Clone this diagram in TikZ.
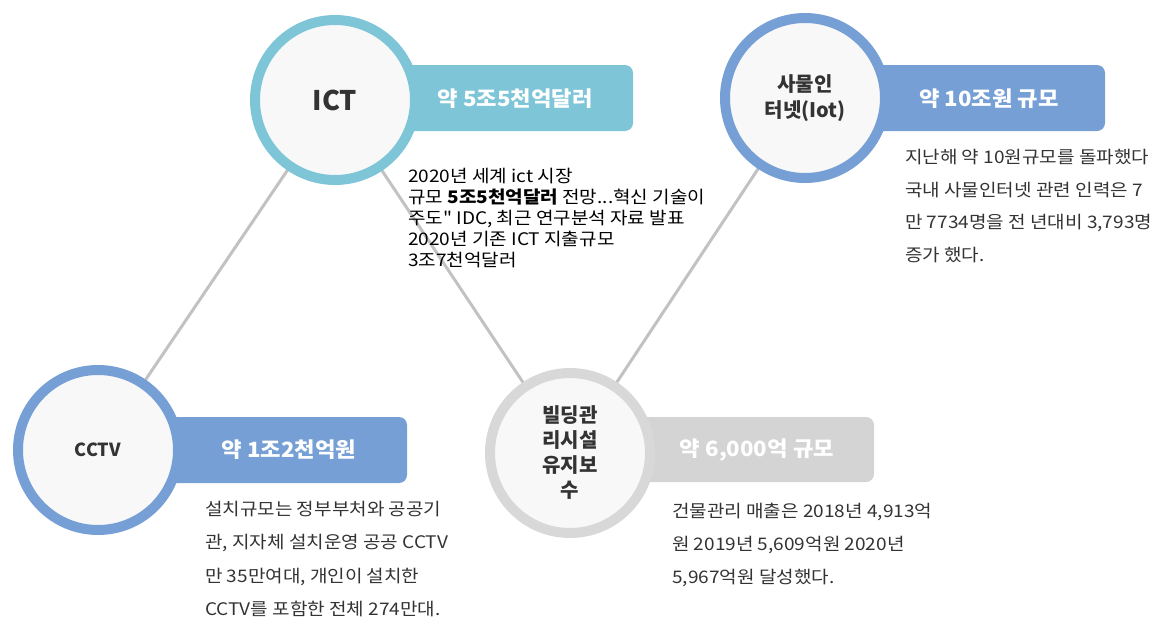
\documentclass[tikz,border=0pt]{standalone}
\usepackage{fontspec}
\setmainfont{Noto Sans CJK KR}
\newfontfamily\descfont{Noto Sans CJK KR}[FakeStretch=1.1]
\newfontfamily\badgefont{Noto Sans CJK KR}[FakeStretch=1.06]
\definecolor{teal1}{HTML}{7EC6D7}
\definecolor{blue1}{HTML}{769FD5}
\definecolor{gray1}{HTML}{D4D4D4}
\definecolor{ringgray}{HTML}{D8D8D8}
\definecolor{linegray}{HTML}{C2C2C2}
\definecolor{circfill}{HTML}{F8F8F8}
\definecolor{txt}{HTML}{333333}
\tikzset{
  hub/.style={circle, minimum size=160pt, line width=10pt, fill=circfill, inner sep=0pt, align=center, text=txt},
  badgetext/.style={text=white, font=\badgefont\fontsize{21}{24}\selectfont\bfseries},
  desc/.style={anchor=north west, align=left, inner sep=0pt, text=txt},
  link/.style={draw=linegray, line width=3pt}
}
\begin{document}
\begin{tikzpicture}[x=1pt,y=-1pt]
\useasboundingbox (0,0) rectangle (1167,632);
% hub positions
\coordinate (pICT) at (335,100);
\coordinate (pIOT) at (805,98);
\coordinate (pCCTV) at (98,450);
\coordinate (pBLD) at (570,453);
% connectors
\draw[link] (pCCTV) -- (pICT);
\draw[link] (pICT) -- (pBLD);
\draw[link] (pIOT) -- (pBLD);
% badges
\fill[teal1, rounded corners=8pt] (340,65) rectangle (633,131);
\node[badgetext] (bICT) at (515,99) {약 5조5천억달러};
\fill[blue1, rounded corners=8pt] (810,65) rectangle (1105,131);
\node[badgetext] (bIOT) at (989,99) {약 10조원 규모};
\fill[blue1, rounded corners=8pt] (100,417) rectangle (407,483);
\node[badgetext] (bCCTV) at (289,450) {약 1조2천억원};
\fill[gray1, rounded corners=8pt] (575,417) rectangle (874,482);
\node[badgetext] (bBLD) at (757,450) {약 6,000억 규모};
% hubs
\node[hub, draw=teal1, font=\fontsize{27}{30}\selectfont\bfseries] (ICT) at (pICT) {ICT};
\node[hub, draw=blue1, font=\fontsize{20}{26}\selectfont\bfseries] (IOT) at (pIOT) {사물인\\터넷(Iot)};
\node[hub, draw=blue1, font=\fontsize{18}{22}\selectfont\bfseries] (CCTV) at (pCCTV) {CCTV};
\node[hub, draw=ringgray, font=\fontsize{20}{25}\selectfont\bfseries] (BLD) at (pBLD) {빌딩관\\리시설\\유지보\\수};
% descriptions
\node[desc, text=black, font=\descfont\fontsize{17.3}{21}\selectfont] (dICT) at (408,168) {2020년 세계 ict 시장\\규모 \textbf{5조5천억달러} 전망...혁신 기술이\\주도" IDC, 최근 연구분석 자료 발표\\2020년 기존 ICT 지출규모\\3조7천억달러};
\node[desc, font=\descfont\fontsize{17.3}{32.7}\selectfont] (dIOT) at (905,149) {지난해 약 10원규모를 돌파했다\\국내 사물인터넷 관련 인력은 7\\만 7734명을 전 년대비 3,793명\\증가 했다.};
\node[desc, font=\descfont\fontsize{17.3}{33.3}\selectfont] (dCCTV) at (205,501) {설치규모는 정부부처와 공공기\\관, 지자체 설치운영 공공 CCTV\\만 35만여대, 개인이 설치한\\CCTV를 포함한 전체 274만대.};
\node[desc, font=\descfont\fontsize{17.3}{33}\selectfont] (dBLD) at (672,503) {건물관리 매출은 2018년 4,913억\\원 2019년 5,609억원 2020년\\5,967억원 달성했다.};
\end{tikzpicture}
\end{document}
